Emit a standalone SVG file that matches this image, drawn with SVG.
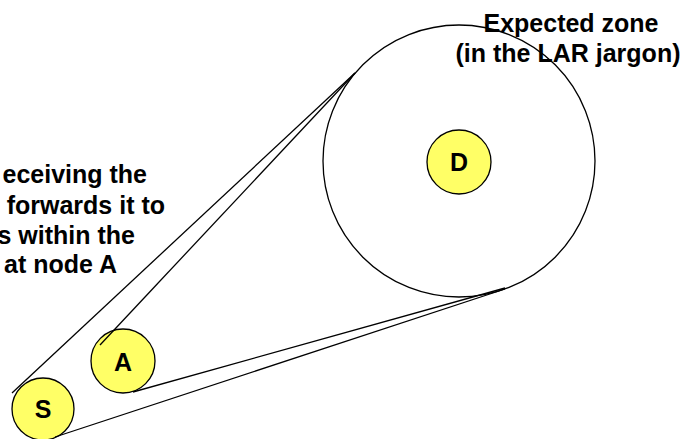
<svg xmlns="http://www.w3.org/2000/svg" width="696" height="439" viewBox="0 0 696 439">
<style>
.zone{fill:none;stroke:#000;stroke-width:1.3}
.node{fill:#FFFF66;stroke:#000;stroke-width:1.3}
.lbl{font-family:"Liberation Sans",Arial,sans-serif;font-weight:bold;font-size:25px;fill:#000;text-anchor:middle}
.txt{font-family:"Liberation Sans",Arial,sans-serif;font-weight:bold;font-size:25px;fill:#000}
.conn line{stroke:#000;stroke-width:1.3;fill:none}
</style>
<rect width="696" height="439" fill="#fff"/>
<g id="zone"><circle class="zone" cx="459" cy="161" r="136"/></g>
<g id="D"><circle class="node" cx="459" cy="162" r="32"/><text class="lbl" x="459" y="171">D</text></g>
<g id="A"><circle class="node" cx="123" cy="361" r="32"/><text class="lbl" x="123" y="371">A</text></g>
<g id="S"><circle class="node" cx="43" cy="409" r="31"/><text class="lbl" x="43" y="418">S</text></g>
<g id="connectors" class="conn">
<line x1="12" y1="393" x2="355" y2="73"/>
<line x1="100" y1="345" x2="355" y2="73"/>
<line x1="55" y1="437" x2="505" y2="289"/>
<line x1="133" y1="392" x2="505" y2="288"/>
</g>
<g id="labels">
<text class="txt" text-anchor="middle" x="571" y="32">Expected zone</text>
<text class="txt" text-anchor="middle" x="568" y="62">(in the LAR jargon)</text>
<text class="txt" text-anchor="end" x="147" y="183">eceiving the</text>
<text class="txt" text-anchor="end" x="165" y="214">forwards it to</text>
<text class="txt" text-anchor="end" x="135" y="244">s within the</text>
<text class="txt" text-anchor="end" x="117" y="273">at node A</text>
</g>
</svg>
